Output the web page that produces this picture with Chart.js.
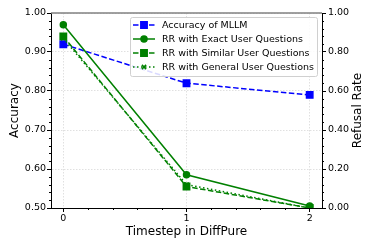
<!DOCTYPE html>
<html>
<head>
<meta charset="utf-8">
<script src="https://cdn.jsdelivr.net/npm/chart.js@4"></script>
<style>
  body { margin: 0; background: #fff; }
  canvas { display: block; }
</style>
</head>
<body>
<canvas id="chart" width="374" height="249"></canvas>
<script>
// Data
const timesteps = [0, 1, 2];
const accuracyMLLM = [0.92, 0.82, 0.79];
const rrExact = [0.94, 0.17, 0.01];
const rrSimilar = [0.88, 0.11, 0.00];
const rrGeneral = [0.87, 0.12, 0.00];
const seriesLabels = [
  'Accuracy of MLLM',
  'RR with Exact User Questions',
  'RR with Similar User Questions',
  'RR with General User Questions'
];
const xTicks = [0, 1, 2];
const accuracyTicks = [0.5, 0.6, 0.7, 0.8, 0.9, 1.0];
const refusalTicks = [0, 0.2, 0.4, 0.6, 0.8, 1.0];

const FONT = 'DejaVu Sans';
const BLUE = '#0000ff';
const GREEN = '#008000';

function points(values) {
  return timesteps.map((t, i) => ({ x: t, y: values[i] }));
}

function fixedTicks(list) {
  return scale => { scale.ticks = list.map(v => ({ value: v })); };
}

// minor ticks, top spine, right title and matplotlib-like legend
const extrasPlugin = {
  id: 'extras',
  afterDraw(chart) {
    const ctx = chart.ctx;
    const area = chart.chartArea;
    const sx = chart.scales.x, sl = chart.scales.yL, sr = chart.scales.yR;
    ctx.save();
    ctx.strokeStyle = '#000';
    ctx.lineWidth = 1;
    ctx.beginPath();
    for (let i = 1; i < 10; i++) {
      if (i === 5) continue;
      const px = Math.round(sx.getPixelForValue(i * 0.2)) + 0.5;
      ctx.moveTo(px, area.bottom);
      ctx.lineTo(px, area.bottom + 2);
    }
    for (let i = 1; i < 25; i++) {
      if (i % 5 === 0) continue;
      const py = Math.round(sl.getPixelForValue(0.5 + i * 0.02)) + 0.5;
      ctx.moveTo(area.left, py);
      ctx.lineTo(area.left - 2, py);
      const pr = Math.round(sr.getPixelForValue(i * 0.04)) + 0.5;
      ctx.moveTo(area.right, pr);
      ctx.lineTo(area.right + 2, pr);
    }
    ctx.stroke();

    // top spine
    ctx.strokeStyle = '#808080';
    ctx.lineWidth = 1.3;
    ctx.beginPath();
    ctx.moveTo(area.left, area.top);
    ctx.lineTo(area.right, area.top);
    ctx.stroke();

    // right axis title, reading bottom to top like the left one
    ctx.save();
    ctx.translate(358, (area.top + area.bottom) / 2);
    ctx.rotate(-Math.PI / 2);
    ctx.font = '12px "' + FONT + '"';
    ctx.fillStyle = '#000';
    ctx.textAlign = 'center';
    ctx.textBaseline = 'middle';
    ctx.fillText('Refusal Rate', 0, 0);
    ctx.restore();

    // legend
    const bx = 130, by = 17, bw = 187, bh = 59;
    ctx.fillStyle = 'rgba(255,255,255,0.85)';
    ctx.strokeStyle = '#d0d0d0';
    ctx.lineWidth = 1;
    ctx.beginPath();
    ctx.roundRect(bx + 0.5, by + 0.5, bw, bh, 2);
    ctx.fill();
    ctx.stroke();
    ctx.font = '9.5px "' + FONT + '"';
    ctx.textBaseline = 'middle';
    chart.data.datasets.forEach((ds, i) => {
      const y = 25 + i * 14;
      ctx.strokeStyle = ds.borderColor;
      ctx.lineWidth = ds.borderWidth;
      ctx.setLineDash(ds.borderDash || []);
      ctx.beginPath();
      ctx.moveTo(133, y);
      ctx.lineTo(155, y);
      ctx.stroke();
      ctx.setLineDash([]);
      Chart.helpers.drawPoint(ctx, {
        pointStyle: ds.pointStyle,
        radius: ds.pointRadius,
        borderWidth: ds.pointStyle === 'crossRot' ? 1.3 : 1
      }, 144, y);
      if (ds.pointStyle !== 'crossRot') {
        ctx.fillStyle = ds.backgroundColor;
        ctx.fill();
      }
      ctx.fillStyle = '#000';
      ctx.fillText(seriesLabels[i], 162, y + 0.5);
    });
    ctx.restore();
  }
};

const tickFont = { family: FONT, size: 9.5 };
const titleFont = { family: FONT, size: 12 };

new Chart(document.getElementById('chart'), {
  type: 'line',
  data: {
    datasets: [
      {
        label: seriesLabels[0], data: points(accuracyMLLM), yAxisID: 'yL',
        borderColor: BLUE, backgroundColor: BLUE, borderWidth: 1.5,
        borderDash: [5.5, 2.5], pointStyle: 'rect', pointRadius: 4.5, order: 4
      },
      {
        label: seriesLabels[1], data: points(rrExact), yAxisID: 'yR',
        borderColor: GREEN, backgroundColor: GREEN, borderWidth: 1.5,
        pointStyle: 'circle', pointRadius: 3, order: 3
      },
      {
        label: seriesLabels[2], data: points(rrSimilar), yAxisID: 'yR',
        borderColor: GREEN, backgroundColor: GREEN, borderWidth: 1.5,
        borderDash: [5.5, 2.5], pointStyle: 'rect', pointRadius: 4.5, order: 2
      },
      {
        label: seriesLabels[3], data: points(rrGeneral), yAxisID: 'yR',
        borderColor: GREEN, backgroundColor: GREEN, borderWidth: 1.5,
        borderDash: [1.5, 2.5], pointStyle: 'crossRot', pointRadius: 3,
        pointBorderWidth: 1.3, order: 1
      }
    ]
  },
  options: {
    responsive: false,
    animation: false,
    devicePixelRatio: 1,
    layout: { padding: { top: 13, left: 0, right: 0, bottom: 0 } },
    elements: { line: { tension: 0 } },
    plugins: { legend: { display: false }, tooltip: { enabled: false } },
    scales: {
      x: {
        type: 'linear', min: -0.1, max: 2.1,
        afterBuildTicks: fixedTicks(xTicks),
        afterFit: s => { s.height = 41; },
        ticks: { font: tickFont, color: '#000', padding: 1, callback: v => String(v) },
        grid: { color: 'rgba(0,0,0,0.12)', tickColor: '#000', tickLength: 4, tickWidth: 1 },
        border: { color: '#000', width: 1, dash: [1.5, 1.5] },
        title: { display: true, text: 'Timestep in DiffPure', font: titleFont, color: '#000', padding: { top: 0, bottom: 10 } }
      },
      yL: {
        type: 'linear', position: 'left', min: 0.5, max: 1.0,
        afterBuildTicks: fixedTicks(accuracyTicks),
        afterFit: s => { s.width = 51; },
        ticks: { font: tickFont, color: '#000', padding: 1, callback: v => v.toFixed(2) },
        grid: { color: 'rgba(0,0,0,0.12)', tickColor: '#000', tickLength: 4, tickWidth: 1 },
        border: { color: '#000', width: 1, dash: [1.5, 1.5] },
        title: { display: true, text: 'Accuracy', font: titleFont, color: '#000', padding: { top: 8, bottom: 0 } }
      },
      yR: {
        type: 'linear', position: 'right', min: 0, max: 1.0,
        afterBuildTicks: fixedTicks(refusalTicks),
        afterFit: s => { s.width = 52; },
        ticks: { font: tickFont, color: '#000', padding: 2, callback: v => v.toFixed(2) },
        grid: { drawOnChartArea: false, tickColor: '#000', tickLength: 4, tickWidth: 1 },
        border: { color: '#000', width: 1 },
        title: { display: false }
      }
    }
  },
  plugins: [extrasPlugin]
});
</script>
</body>
</html>
